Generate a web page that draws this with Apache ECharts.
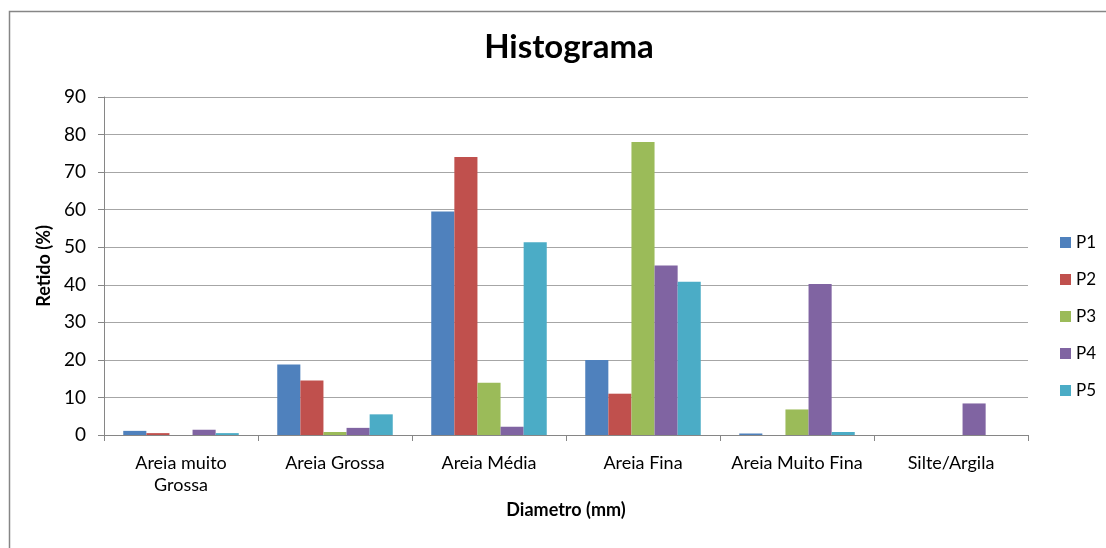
<!DOCTYPE html>
<html>
<head>
<meta charset="utf-8">
<script src="https://cdn.jsdelivr.net/npm/echarts@6/dist/echarts.min.js"></script>
<style>
  html, body { margin: 0; padding: 0; background: #ffffff; }
  #chart { width: 1106px; height: 548px; }
</style>
</head>
<body>
<div id="chart"></div>
<script>
// Grain-size classes (x axis)
const categories = ['Areia muito\nGrossa', 'Areia Grossa', 'Areia Média', 'Areia Fina', 'Areia Muito Fina', 'Silte/Argila'];

// Percentage retained per sample
const p1 = [1.1, 18.8, 59.5, 20.0, 0.4, 0];
const p2 = [0.5, 14.5, 74.0, 11.0, 0, 0];
const p3 = [0, 0.8, 13.9, 78.0, 6.8, 0];
const p4 = [1.4, 1.9, 2.2, 45.1, 40.2, 8.4];
const p5 = [0.5, 5.5, 51.3, 40.8, 0.8, 0];

const seriesNames = ['P1', 'P2', 'P3', 'P4', 'P5'];
const seriesData = [p1, p2, p3, p4, p5];
const colors = ['#4F81BD', '#C0504D', '#9BBB59', '#8064A2', '#4BACC6'];

const yTicks = { min: 0, max: 90, interval: 10 };

const FONT = 'Lato, "Open Sans", sans-serif';
const chart = echarts.init(document.getElementById('chart'), null, { renderer: 'canvas' });

chart.setOption({
  backgroundColor: '#ffffff',
  animation: false,
  color: colors,
  textStyle: { fontFamily: FONT },
  graphic: [{
    type: 'polyline',
    shape: { points: [[9.5, 560], [9.5, 11.5], [1120, 11.5]] },
    style: { stroke: '#868686', lineWidth: 1.5, fill: null },
    silent: true
  }],
  title: {
    text: 'Histograma',
    left: 564,
    top: 26,
    textAlign: 'center',
    textStyle: { fontFamily: FONT, fontSize: 33, fontWeight: 'bold', color: '#000000' }
  },
  legend: {
    orient: 'vertical',
    left: 1060,
    top: 234,
    padding: 0,
    icon: 'rect',
    itemWidth: 11,
    itemHeight: 11,
    itemGap: 20,
    textStyle: { fontFamily: FONT, fontSize: 17, color: '#000000', padding: [0, 0, 0, 0] },
    data: seriesNames
  },
  grid: { left: 104, right: 78, top: 97, bottom: 113, containLabel: false },
  xAxis: {
    type: 'category',
    data: categories,
    name: 'Diametro (mm)',
    nameLocation: 'middle',
    nameGap: 63,
    nameTextStyle: { fontFamily: FONT, fontSize: 18, fontWeight: 'bold', color: '#000000' },
    axisLine: { lineStyle: { color: '#868686', width: 1 } },
    axisTick: { show: true, length: 6, alignWithLabel: false, lineStyle: { color: '#868686' } },
    axisLabel: { fontFamily: FONT, fontSize: 18, color: '#000000', margin: 17, lineHeight: 22, interval: 0 }
  },
  yAxis: {
    type: 'value',
    min: yTicks.min,
    max: yTicks.max,
    interval: yTicks.interval,
    name: 'Retido (%)',
    nameLocation: 'middle',
    nameGap: 46,
    nameTextStyle: { fontFamily: FONT, fontSize: 18, fontWeight: 'bold', color: '#000000' },
    axisLine: { show: true, lineStyle: { color: '#868686', width: 1 } },
    axisTick: { show: true, length: 6, lineStyle: { color: '#868686' } },
    axisLabel: { fontFamily: FONT, fontSize: 19, color: '#000000', margin: 18 },
    splitLine: { show: true, lineStyle: { color: '#a6a6a6', width: 1 } }
  },
  series: seriesNames.map((name, i) => ({
    name: name,
    type: 'bar',
    data: seriesData[i],
    barGap: '0%',
    barCategoryGap: '25%',
    itemStyle: { color: colors[i] }
  }))
});
</script>
</body>
</html>
